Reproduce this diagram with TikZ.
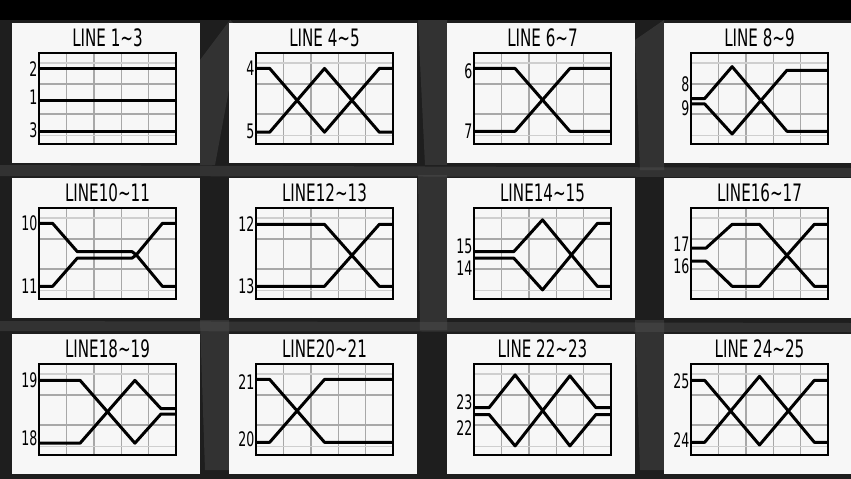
\documentclass[tikz,border=0pt]{standalone}
\usepackage{fontspec}
\newfontfamily\pf[FakeStretch=0.63]{DejaVu Sans}
\definecolor{panelwhite}{HTML}{F7F7F7}
\definecolor{gridgray}{HTML}{A8A8A8}
\definecolor{gridlight}{HTML}{CFCFCF}
\definecolor{bgdark}{HTML}{1E1E1E}
\definecolor{bgmid}{HTML}{5A5A5A}
\tikzset{
  panelbox/.style={fill=panelwhite, draw=none},
  gridbox/.style={draw=black, line width=2pt},
  gline/.style={draw=gridgray, line width=1.4pt},
  glight/.style={draw=gridlight, line width=1.2pt},
  trace/.style={draw=black, line width=3pt, line join=round},
  ttl/.style={font=\pf\fontsize{24}{24}\selectfont, inner sep=0pt},
  lbl/.style={font=\pf\fontsize{20}{20}\selectfont, inner sep=0pt, anchor=east, xshift=-1.5pt},
  streak/.style={fill=bgmid, opacity=0.35, draw=none},
}
% #1 x, #2 y, #3 name, #4 title, #5 contents (grid coordinates)
\newcommand\mypanel[5]{%
  \fill[panelbox] (#1,#2) rectangle ++(188,140);
  \node[ttl] (#3t) at (#1+95.5,#2+15) {#4};
  \begin{scope}[shift={(#1+27,#2+30)}, x=27.4pt, y=-91pt]
    \foreach \gi in {1,...,4} \draw[gline] (\gi,0) -- (\gi,1);
    \foreach \gf in {0.34,0.67} \draw[gline] (0,\gf) -- (5,\gf);
    \foreach \gf in {0.11,0.91} \draw[glight] (0,\gf) -- (5,\gf);
    #5
    \draw[gridbox] (0,0) rectangle (5,1);
  \end{scope}
}
\begin{document}
\begin{tikzpicture}[x=1pt, y=-1pt]
\useasboundingbox (0,0) rectangle (851,479);
% background
\fill[bgdark] (0,0) rectangle (851,479);
\fill[black] (0,0) rectangle (851,20);
\fill[streak] (200,60) -- (230,20) -- (240,30) -- (215,165) -- (200,165) -- cycle;
\fill[streak] (418,20) -- (447,20) -- (447,165) -- (425,165) -- cycle;
\fill[streak] (635,40) -- (664,20) -- (664,170) -- (640,170) -- cycle;
\fill[streak] (0,165) -- (851,168) -- (851,177) -- (0,176) -- cycle;
\fill[streak] (418,175) -- (447,175) -- (447,330) -- (420,330) -- cycle;
\fill[streak] (200,320) -- (229,320) -- (229,470) -- (205,470) -- cycle;
\fill[streak] (635,320) -- (664,320) -- (664,470) -- (640,470) -- cycle;
\fill[streak] (0,321) -- (851,323) -- (851,332) -- (0,331) -- cycle;

% Row 1
\mypanel{12}{23}{pa}{LINE 1∼3}{%
  \draw[trace] (0,.17) -- (5,.17);
  \draw[trace] (0,.52) -- (5,.52);
  \draw[trace] (0,.86) -- (5,.86);
  \node[lbl] (pal2) at (0,.18) {2};
  \node[lbl] (pal1) at (0,.49) {1};
  \node[lbl] (pal3) at (0,.85) {3};
}
\mypanel{229}{23}{pb}{LINE 4∼5}{%
  \draw[trace] (0,.17) -- (.5,.17) -- (2.5,.87) -- (4.5,.17) -- (5,.17);
  \draw[trace] (0,.87) -- (.5,.87) -- (2.5,.17) -- (4.5,.87) -- (5,.87);
  \node[lbl] (pbl4) at (0,.17) {4};
  \node[lbl] (pbl5) at (0,.86) {5};
}
\mypanel{447}{23}{pc}{LINE 6∼7}{%
  \draw[trace] (0,.17) -- (1.5,.17) -- (3.5,.86) -- (5,.86);
  \draw[trace] (0,.86) -- (1.5,.86) -- (3.5,.17) -- (5,.17);
  \node[lbl] (pcl6) at (0,.2) {6};
  \node[lbl] (pcl7) at (0,.86) {7};
}
\mypanel{664}{23}{pd}{LINE 8∼9}{%
  \draw[trace] (0,.50) -- (.5,.50) -- (1.5,.15) -- (3.5,.86) -- (5,.86);
  \draw[trace] (0,.56) -- (.5,.56) -- (1.5,.89) -- (3.5,.19) -- (5,.19);
  \node[lbl] (pdl8) at (0,.34) {8};
  \node[lbl] (pdl9) at (0,.61) {9};
}
% Row 2
\mypanel{12}{178}{pe}{LINE10∼11}{%
  \draw[trace] (0,.17) -- (.5,.17) -- (1.4,.48) -- (3.4,.48) -- (3.55,.515) -- (4.5,.17) -- (5,.17);
  \draw[trace] (0,.86) -- (.5,.86) -- (1.4,.55) -- (3.4,.55) -- (3.55,.515) -- (4.5,.86) -- (5,.86);
  \node[lbl] (pel10) at (0,.17) {10};
  \node[lbl] (pel11) at (0,.86) {11};
}
\mypanel{229}{178}{pf}{LINE12∼13}{%
  \draw[trace] (0,.18) -- (2.5,.18) -- (4.5,.86) -- (5,.86);
  \draw[trace] (0,.86) -- (2.5,.86) -- (4.5,.18) -- (5,.18);
  \node[lbl] (pfl12) at (0,.18) {12};
  \node[lbl] (pfl13) at (0,.86) {13};
}
\mypanel{447}{178}{pg}{LINE14∼15}{%
  \draw[trace] (0,.48) -- (1.45,.48) -- (2.5,.13) -- (4.5,.86) -- (5,.86);
  \draw[trace] (0,.55) -- (1.45,.55) -- (2.5,.90) -- (4.5,.17) -- (5,.17);
  \node[lbl] (pgl15) at (0,.42) {15};
  \node[lbl] (pgl14) at (0,.66) {14};
}
\mypanel{664}{178}{ph}{LINE16∼17}{%
  \draw[trace] (0,.44) -- (.55,.44) -- (1.5,.18) -- (2.5,.18) -- (4.5,.86) -- (5,.86);
  \draw[trace] (0,.585) -- (.55,.585) -- (1.5,.86) -- (2.5,.86) -- (4.5,.18) -- (5,.18);
  \node[lbl] (phl17) at (0,.40) {17};
  \node[lbl] (phl16) at (0,.64) {16};
}
% Row 3
\mypanel{12}{334}{pi}{LINE18∼19}{%
  \draw[trace] (0,.18) -- (1.5,.18) -- (3.5,.87) -- (4.45,.55) -- (5,.55);
  \draw[trace] (0,.87) -- (1.5,.87) -- (3.5,.18) -- (4.45,.49) -- (5,.49);
  \node[lbl] (pil19) at (0,.18) {19};
  \node[lbl] (pil18) at (0,.82) {18};
}
\mypanel{229}{334}{pj}{LINE20∼21}{%
  \draw[trace] (0,.17) -- (.5,.17) -- (2.5,.86) -- (5,.86);
  \draw[trace] (0,.86) -- (.5,.86) -- (2.5,.17) -- (5,.17);
  \node[lbl] (pjl21) at (0,.2) {21};
  \node[lbl] (pjl20) at (0,.83) {20};
}
\mypanel{447}{334}{pk}{LINE 22∼23}{%
  \draw[trace] (0,.48) -- (.55,.48) -- (1.5,.12) -- (3.5,.90) -- (4.45,.555) -- (5,.555);
  \draw[trace] (0,.555) -- (.55,.555) -- (1.5,.90) -- (3.5,.13) -- (4.45,.48) -- (5,.48);
  \node[lbl] (pkl23) at (0,.42) {23};
  \node[lbl] (pkl22) at (0,.70) {22};
}
\mypanel{664}{334}{pl}{LINE 24∼25}{%
  \draw[trace] (0,.18) -- (.5,.18) -- (2.5,.89) -- (4.5,.18) -- (5,.18);
  \draw[trace] (0,.86) -- (.5,.86) -- (2.5,.135) -- (4.5,.86) -- (5,.86);
  \node[lbl] (pll25) at (0,.19) {25};
  \node[lbl] (pll24) at (0,.84) {24};
}
\end{tikzpicture}
\end{document}
